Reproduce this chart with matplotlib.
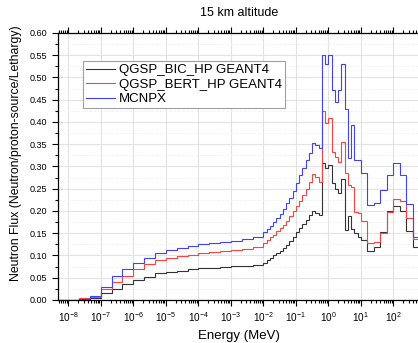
import numpy as np
import matplotlib
matplotlib.use('Agg')
import matplotlib.pyplot as plt
from matplotlib import rc
from matplotlib.ticker import MultipleLocator, LogLocator, NullFormatter

rc('font', family=['Liberation Sans', 'DejaVu Sans'])

# bin edges (MeV): 3 bins/decade below 10 keV, 10 bins/decade above
low_edges = np.logspace(-25 / 3, -2, 20)
high_edges = np.logspace(-2, 2.8, 49)
edges = np.concatenate([low_edges, high_edges[1:]])

labels = ['QGSP_BIC_HP GEANT4', 'QGSP_BERT_HP GEANT4', 'MCNPX']

bic_low = [0, 0.001, 0.002, 0.005, 0.015, 0.025, 0.036, 0.045, 0.052, 0.060,
           0.063, 0.066, 0.069, 0.072, 0.073, 0.074, 0.0757, 0.077, 0.079]
bic_high = [0.084, 0.090, 0.095, 0.100, 0.105, 0.110, 0.116, 0.124, 0.133, 0.142,
            0.152, 0.162, 0.171, 0.180, 0.190, 0.200, 0.196, 0.192,
            0.307, 0.296, 0.303, 0.262, 0.250, 0.240, 0.273, 0.157, 0.189, 0.160,
            0.150, 0.142, 0.135, 0.135, 0.109, 0.109, 0.118, 0.118, 0.152, 0.152,
            0.200, 0.200, 0.212, 0.212, 0.200, 0.200, 0.155, 0.155, 0.120, 0.120]

bert_low = [0, 0.001, 0.004, 0.0075, 0.024, 0.041, 0.055, 0.069, 0.080, 0.090,
            0.095, 0.099, 0.102, 0.105, 0.108, 0.110, 0.112, 0.115, 0.118]
bert_high = [0.128, 0.135, 0.141, 0.147, 0.154, 0.161, 0.169, 0.178, 0.188, 0.199,
             0.211, 0.223, 0.236, 0.250, 0.266, 0.283, 0.276, 0.266,
             0.425, 0.398, 0.408, 0.332, 0.322, 0.309, 0.356, 0.285, 0.258, 0.255,
             0.198, 0.195, 0.178, 0.178, 0.128, 0.128, 0.130, 0.130, 0.150, 0.150,
             0.197, 0.197, 0.226, 0.226, 0.223, 0.223, 0.184, 0.184, 0.137, 0.137]

mcnpx_low = [0, 0.001, 0.003, 0.010, 0.0285, 0.053, 0.070, 0.084, 0.095, 0.106,
             0.112, 0.116, 0.121, 0.126, 0.129, 0.131, 0.133, 0.136, 0.141]
mcnpx_high = [0.153, 0.160, 0.167, 0.175, 0.184, 0.194, 0.205, 0.217, 0.230, 0.245,
              0.262, 0.280, 0.297, 0.314, 0.331, 0.353, 0.348, 0.342,
              0.551, 0.530, 0.551, 0.472, 0.446, 0.472, 0.530, 0.430, 0.320, 0.393,
              0.315, 0.315, 0.285, 0.285, 0.213, 0.213, 0.218, 0.218, 0.247, 0.247,
              0.281, 0.281, 0.307, 0.307, 0.281, 0.281, 0.216, 0.216, 0.141, 0.141]

series = [bic_low + bic_high, bert_low + bert_high, mcnpx_low + mcnpx_high]
colors = ['#333333', '#ff4040', '#4040ff']

fig = plt.figure(figsize=(4.18, 3.43), dpi=100)
ax = fig.add_axes([0.1388, 0.1254, 0.8645, 0.7784])

for vals, c, lab in zip(series, colors, labels):
    ax.stairs(np.array(vals), edges, baseline=None, color=c, lw=0.8, label=lab)

ax.set_xscale('log')
ax.set_xlim(4.82e-9, 10 ** 2.8)
ax.set_ylim(0, 0.60)
ax.yaxis.set_major_locator(MultipleLocator(0.05))
ax.yaxis.set_minor_locator(MultipleLocator(0.025))
ax.yaxis.set_major_formatter(matplotlib.ticker.FormatStrFormatter('%.2f'))
ax.xaxis.set_major_locator(LogLocator(base=10, numticks=20))
ax.xaxis.set_minor_locator(LogLocator(base=10, subs=np.arange(2, 10), numticks=20))
ax.xaxis.set_minor_formatter(NullFormatter())

ax.tick_params(which='both', direction='out', top=True, right=False, labelsize=6.5, width=0.8)
ax.tick_params(axis='x', labelsize=7.2)
ax.tick_params(which='major', length=4)
ax.tick_params(which='minor', length=2)
ax.spines['right'].set_visible(False)
for s in ['left', 'bottom', 'top']:
    ax.spines[s].set_linewidth(0.9)

ax.grid(which='major', color='#e2e2e2', lw=0.8)
ax.grid(which='minor', axis='y', color='#f2f2f2', lw=0.6, ls='--')
ax.set_axisbelow(True)

ax.set_xlabel('Energy (MeV)', fontsize=9.5, labelpad=4)
ax.set_ylabel('Neutron Flux (Neutron/proton-source/Lethargy)', fontsize=8.8)
ax.yaxis.set_label_coords(-0.099, 0.55)
ax.set_title('15 km altitude', fontsize=9, pad=12)

leg = ax.legend(loc='upper left', bbox_to_anchor=(0.069, 0.895), borderaxespad=0,
                fontsize=9.5, fancybox=False, shadow=False, framealpha=1,
                edgecolor='#a0a0a0', handlelength=2.2, handletextpad=0.3,
                labelspacing=0.17, borderpad=0.22)
leg.get_frame().set_linewidth(0.8)

plt.savefig('out.png', dpi=100)
